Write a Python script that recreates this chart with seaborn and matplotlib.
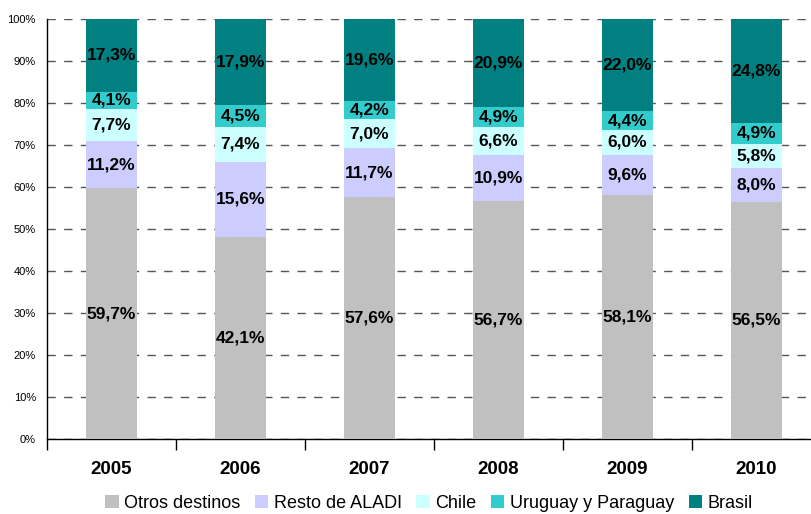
import numpy as np
import pandas as pd
import seaborn as sns
import matplotlib.pyplot as plt
from matplotlib.patches import Patch

years = ["2005", "2006", "2007", "2008", "2009", "2010"]
series = ["Otros destinos", "Resto de ALADI", "Chile", "Uruguay y Paraguay", "Brasil"]
otros = [59.7, 42.1, 57.6, 56.7, 58.1, 56.5]
resto_aladi = [11.2, 15.6, 11.7, 10.9, 9.6, 8.0]
chile = [7.7, 7.4, 7.0, 6.6, 6.0, 5.8]
uruguay_paraguay = [4.1, 4.5, 4.2, 4.9, 4.4, 4.9]
brasil = [17.3, 17.9, 19.6, 20.9, 22.0, 24.8]
colors = ["#C0C0C0", "#CCCCFF", "#CCFFFF", "#33CCCC", "#008080"]

raw = pd.DataFrame({
    "Otros destinos": otros,
    "Resto de ALADI": resto_aladi,
    "Chile": chile,
    "Uruguay y Paraguay": uruguay_paraguay,
    "Brasil": brasil,
}, index=years)

# 100% stacked: normalise each year
share = raw.div(raw.sum(axis=1), axis=0) * 100
cum = share.cumsum(axis=1)

sns.set_style("white")
plt.rcParams["font.family"] = ["Liberation Sans", "DejaVu Sans"]

fig = plt.figure(figsize=(8.12, 5.14), dpi=100)
ax = fig.add_axes([47 / 812, 75 / 514, 774 / 812, 420 / 514])

# draw cumulative totals from top layer down so each covers the next
for name, col in reversed(list(zip(series, colors))):
    d = pd.DataFrame({"year": years, "val": cum[name].values})
    sns.barplot(data=d, x="year", y="val", color=col, width=0.4,
                saturation=1, linewidth=0, edgecolor="none", ax=ax, zorder=3)

# value labels
for i, y in enumerate(years):
    for name in series:
        mid = cum.loc[y, name] - share.loc[y, name] / 2
        txt = f"{raw.loc[y, name]:.1f}%".replace(".", ",")
        ax.text(i, mid, txt, ha="center", va="center", fontsize=12.5,
                fontweight="bold", color="black", zorder=5)

ax.set_xlim(-0.5, 5.5)
ax.set_ylim(0, 100)
ax.set_yticks(np.arange(0, 101, 10))
ax.set_yticklabels([f"{v}%" for v in range(0, 101, 10)], fontsize=8, color="black")
ax.yaxis.grid(True, linestyle=(0, (6, 6)), color="#555555", linewidth=1, zorder=0)
ax.set_axisbelow(True)
ax.set_xlabel("")
ax.set_ylabel("")

ax.set_xticks(range(len(years)))
ax.set_xticklabels(years, fontsize=13.5, fontweight="bold", color="black")
ax.set_xticks(np.arange(-0.5, 5.6, 1), minor=True)
ax.tick_params(axis="x", which="major", bottom=False, length=0, pad=16)
ax.tick_params(axis="x", which="minor", bottom=True, length=8, width=1,
               direction="out", color="black")
ax.tick_params(axis="y", length=0, pad=8)

for s in ["top", "right"]:
    ax.spines[s].set_visible(False)
for s in ["left", "bottom"]:
    ax.spines[s].set_color("black")
    ax.spines[s].set_linewidth(1)

handles = [Patch(facecolor=c, edgecolor="none", label=n) for n, c in zip(series, colors)]
fig.legend(handles=handles, loc="center", bbox_to_anchor=(429 / 812, 11 / 514),
           ncol=5, frameon=False, fontsize=13, handlelength=0.75, handleheight=0.75,
           handletextpad=0.3, columnspacing=0.8, labelcolor="black")

fig.savefig("out.png", dpi=100)
